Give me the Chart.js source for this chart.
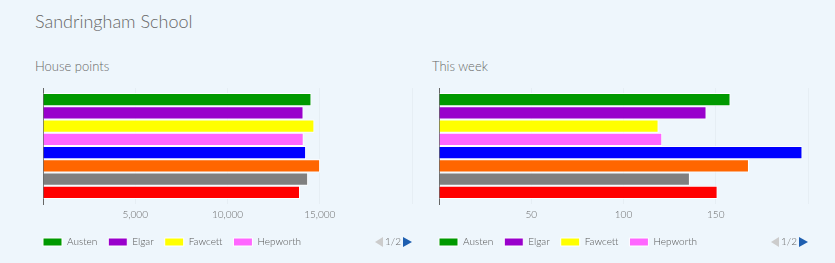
<!DOCTYPE html>
<html>
<head>
<meta charset="utf-8">
<script src="https://cdn.jsdelivr.net/npm/chart.js@4"></script>
<style>
  body { margin: 0; width: 835px; height: 263px; background: #eef6fc; position: relative; overflow: hidden; font-family: Lato, sans-serif; }
  .title { position: absolute; left: 35px; top: 10px; font-size: 18px; font-weight: 300; color: #666; }
  .sub { position: absolute; top: 58px; font-size: 13px; font-weight: 300; color: #666; }
  .box { position: absolute; top: 80px; width: 417px; height: 183px; }
</style>
</head>
<body>
<div class="title">Sandringham School</div>
<div class="sub" style="left:35px">House points</div>
<div class="sub" style="left:432px">This week</div>
<div class="box" style="left:0px"><canvas id="pointsChart"></canvas></div>
<div class="box" style="left:396px"><canvas id="weekChart"></canvas></div>
<script>
const houses = ['Austen', 'Elgar', 'Fawcett', 'Hepworth', 'Lister', 'Newton', 'Seacole', 'Turing']
const houseColours = ['#009900', '#9900cc', '#ffff00', '#ff66ff', '#0000ff', '#ff6600', '#808080', '#ff0000']
const housePoints = [14550, 14120, 14710, 14130, 14260, 15020, 14370, 13930]
const thisWeek = [158, 145, 119, 121, 197, 168, 136, 151]

const pointsTicks = [5000, 10000, 15000]
const weekTicks = [50, 100, 150]

// draws the "◀ 1/2 ▶" legend pager at the end of the legend row
const pagerPlugin = {
    id: 'pager',
    afterDraw: chart => {
        const legend = chart.legend
        if (!legend || !legend.legendHitBoxes.length) return
        const box = legend.legendHitBoxes[0]
        const y = box.top + box.height / 2
        const right = chart.chartArea.right
        const ctx = chart.ctx
        ctx.save()
        ctx.fillStyle = '#cccccc'
        ctx.beginPath()
        ctx.moveTo(right - 37, y)
        ctx.lineTo(right - 29, y - 5)
        ctx.lineTo(right - 29, y + 5)
        ctx.closePath()
        ctx.fill()
        ctx.fillStyle = '#666666'
        ctx.font = '300 10px Lato'
        ctx.textAlign = 'center'
        ctx.textBaseline = 'middle'
        ctx.fillText('1/2', right - 19, y)
        ctx.fillStyle = '#1f5fb0'
        ctx.beginPath()
        ctx.moveTo(right, y)
        ctx.lineTo(right - 9, y - 5)
        ctx.lineTo(right - 9, y + 5)
        ctx.closePath()
        ctx.fill()
        ctx.restore()
    }
}

const makeChart = (id, values, shownTicks, max, step) => {
    const datasets = houses.map((name, i) => ({
        label: name,
        data: [values[i]],
        backgroundColor: houseColours[i],
        borderColor: '#ffffff',
        borderWidth: 1,
        categoryPercentage: 0.914,
        barPercentage: 1
    }))

    return new Chart(document.getElementById(id), {
        type: 'bar',
        data: { labels: [''], datasets: datasets },
        plugins: [pagerPlugin],
        options: {
            indexAxis: 'y',
            responsive: true,
            maintainAspectRatio: false,
            animation: false,
            layout: { padding: { left: 32, right: 5, top: 8, bottom: 6 } },
            scales: {
                x: {
                    min: 0,
                    max: max,
                    ticks: {
                        stepSize: step,
                        padding: 5,
                        color: '#666666',
                        font: { family: 'Lato', size: 10, weight: '300' },
                        callback: v => shownTicks.includes(v) ? v.toLocaleString('en-US') : ''
                    },
                    grid: { color: 'rgba(0,0,0,0.03)', drawTicks: false },
                    border: { display: false }
                },
                y: {
                    ticks: { display: false },
                    grid: { display: false },
                    border: { display: true, color: '#666666', width: 1 },
                    afterFit: s => { s.width = 11 }
                }
            },
            plugins: {
                legend: {
                    position: 'bottom',
                    align: 'start',
                    labels: {
                        boxWidth: 19,
                        boxHeight: 8,
                        padding: 11,
                        color: '#555555',
                        font: { family: 'Lato', size: 10, weight: '300' },
                        // only the first page of the legend is shown
                        filter: item => item.datasetIndex < 4
                    }
                },
                tooltip: { enabled: false }
            }
        }
    })
}

makeChart('pointsChart', housePoints, pointsTicks, 20000, 5000)
makeChart('weekChart', thisWeek, weekTicks, 200, 50)
</script>
</body>
</html>
